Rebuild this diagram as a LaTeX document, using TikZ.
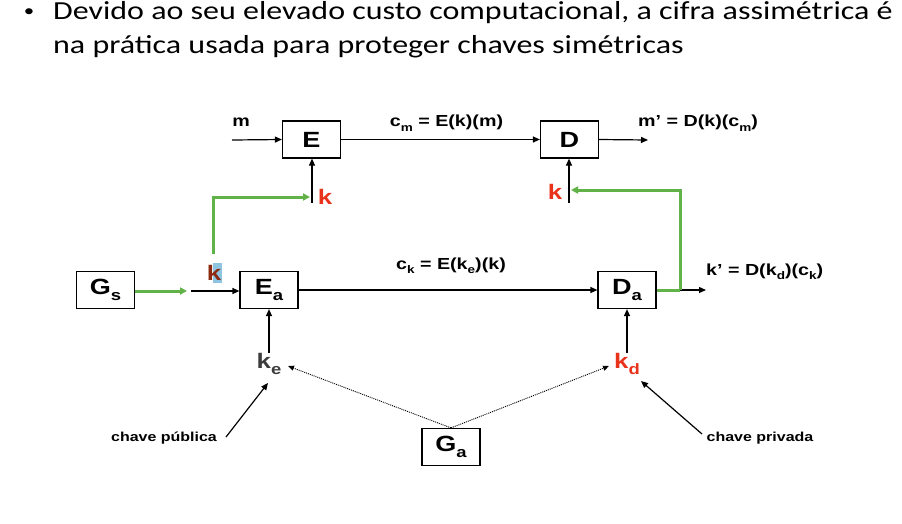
\documentclass[tikz,border=0pt]{standalone}
\usepackage{fontspec}
\setmainfont{Liberation Sans}[FakeStretch=1.23]
\newfontfamily\calibri{Carlito}[FakeStretch=1.23]
\usetikzlibrary{arrows.meta}
\definecolor{kred}{HTML}{E8321A}
\definecolor{kgreen}{HTML}{62B24A}
\definecolor{kbrown}{HTML}{8B2A10}
\definecolor{kblue}{HTML}{8EC4DF}
\definecolor{kgray}{HTML}{3C3C3C}
\newcommand\lsub[2][11]{\raisebox{-0.28em}{\fontsize{#1}{#1}\selectfont #2}}
\begin{document}
\begin{tikzpicture}[x=1pt,y=-1pt,
  box/.style={draw,line width=1.2pt,minimum width=58pt,minimum height=37pt,inner sep=0pt,font=\bfseries\fontsize{22}{22}\selectfont},
  lbl/.style={inner sep=0pt,font=\bfseries\fontsize{16}{16}\selectfont},
  small/.style={inner sep=0pt,font=\bfseries\fontsize{13}{13}\selectfont},
  bigk/.style={inner sep=0pt,font=\bfseries\fontsize{21}{21}\selectfont},
  arr/.style={line width=1.2pt,-{Triangle[length=7pt,width=6pt]}},
  garr/.style={line width=3pt,kgreen,-{Triangle[length=7pt,width=7pt]}},
  gline/.style={line width=3pt,kgreen},
  dots/.style={line width=0.9pt,dash pattern=on 1pt off 1pt,-{Triangle[length=6pt,width=5pt]}},
  ttl/.style={inner sep=0pt,anchor=base west,font=\calibri\fontsize{26}{26}\selectfont}]
\useasboundingbox (0,0) rectangle (902,523);
% title
\node[inner sep=0pt,anchor=base,font=\calibri\fontsize{17}{17}\selectfont] (bul) at (29,16) {•};
\node[ttl] (t1) at (53,19) {Devido ao seu elevado custo computacional, a cifra assimétrica é};
\node[ttl] (t2) at (53,53) {na prática usada para proteger chaves simétricas};
% boxes
\node[box] (E) at (311.5,139.5) {E};
\node[box] (D) at (569.5,139.5) {D};
\node[box] (Gs) at (105.5,290) {G\lsub[15]{s}};
\node[box] (Ea) at (269,290) {E\lsub[15]{a}};
\node[box] (Da) at (627,290) {D\lsub[15]{a}};
\node[box] (Ga) at (451,447) {G\lsub[15]{a}};
% top row
\coordinate (min) at (232,140);
\node[lbl] (m) at (241,122) {m};
\draw[arr] (min) -- (E.west);
\draw[arr] (E) -- (D);
\node[lbl] (cm) at (446.5,123) {c\lsub{m} = E(k)(m)};
\coordinate (mout) at (648,140);
\draw[arr] (D.east) -- (mout);
\node[lbl,anchor=west] (mp) at (638,123) {m’ = D(k)(c\lsub{m})};
% k into E
\coordinate (kEb) at (312,203);
\draw[arr] (kEb) -- (kEb |- E.south);
\node[bigk,text=kred] (kE) at (325,197) {k};
% k into D
\coordinate (kDb) at (569,203);
\draw[arr] (kDb) -- (kDb |- D.south);
\node[bigk,text=kred] (kD) at (555,192) {k};
% brown k
\fill[kblue] (213,263) rectangle (222,283);
\node[bigk,text=kbrown] (kb) at (214,273) {k};
% green path to E
\coordinate (g1) at (213,254);
\coordinate (g2) at (213,197);
\coordinate (g3) at (310,197);
\draw[garr] (g1) -- (g2) -- (g3);
% Gs to Ea
\coordinate (gse) at (187,291);
\coordinate (kin) at (191,291);
\draw[garr] (Gs.east |- gse) -- (gse);
\draw[arr] (kin) -- (Ea.west |- kin);
% Ea to Da
\draw[arr] (Ea) -- (Da);
\node[lbl] (ck) at (451,266) {c\lsub{k} = E(k\lsub{e})(k)};
% Da out
\coordinate (kout) at (706,290);
\draw[arr] (Da.east) -- (kout);
\node[lbl,anchor=west] (kp) at (706,272) {k’ = D(k\lsub{d})(c\lsub{k})};
\coordinate (h1) at (680,290);
\coordinate (h2) at (680,190);
\coordinate (h3) at (571,190);
\draw[gline] (Da.east) -- (h1);
\draw[garr] (h1) -- (h2) -- (h3);
% ke, kd
\node[bigk,text=kgray] (ke) at (269,364) {k\lsub[15]{e}};
\node[bigk,text=kred] (kd) at (627,364) {k\lsub[15]{d}};
\coordinate (keb) at (269,353);
\coordinate (kdb) at (627,353);
\draw[arr] (keb) -- (keb |- Ea.south);
\draw[arr] (kdb) -- (kdb |- Da.south);
\coordinate (ket) at (288,366);
\coordinate (kdt) at (609,366);
\draw[dots] (Ga.north) -- (ket);
\draw[dots] (Ga.north) -- (kdt);
% key labels
\node[small] (cp) at (164,438) {chave pública};
\node[small] (cv) at (760,438) {chave privada};
\coordinate (cpt) at (268,383);
\coordinate (cvt) at (641,381);
\coordinate (cps) at (226,437);
\coordinate (cvs) at (702,434);
\draw[arr] (cps) -- (cpt);
\draw[arr] (cvs) -- (cvt);
\end{tikzpicture}
\end{document}
